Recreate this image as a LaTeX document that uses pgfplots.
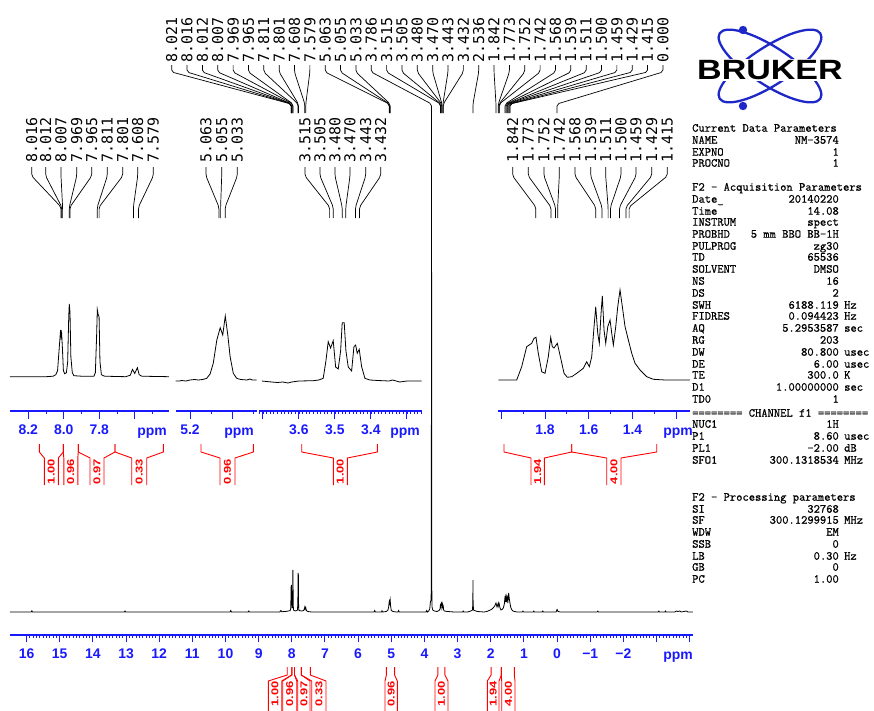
\documentclass[border=0pt]{standalone}
\usepackage{fontspec}
\usepackage{graphicx}
\usepackage{pgfplots}
\pgfplotsset{compat=1.18}
\setmainfont{Liberation Sans}
\newfontfamily\plfont{DejaVu Sans Mono}
\newfontfamily\parfont[FakeBold=0.8]{Latin Modern Mono}
\definecolor{bblue}{RGB}{25,25,255}
\definecolor{bred}{RGB}{255,0,0}
\definecolor{logoblue}{RGB}{30,40,200}
\pgfplotsset{nmr/.style={scale only axis, enlargelimits=false, clip=false, x dir=reverse,
  axis x line*=bottom, axis y line=none, ytick=\empty, tick align=outside,
  major tick length=7.5bp, minor tick length=3.2bp,
  every tick/.style={bblue, line width=1bp},
  every minor tick/.style={bblue, line width=0.8bp},
  axis line style={bblue, line width=1.2bp, -},
  xticklabel style={font=\fontsize{14}{14}\selectfont\bfseries, text=bblue, yshift=-3bp},
  anchor=south west}}
\newcommand\prow[4]{\node[anchor=base west,inner sep=0] at (692,#1+3.7) {#2};
  \node[anchor=base east,inner sep=0] at (839,#1+3.7) {#3};
  \node[anchor=base west,inner sep=0] at (844,#1+3.7) {#4};}
\begin{document}
\begin{tikzpicture}
\path[use as bounding box] (0,0) rectangle (874bp,-711bp);
% ---------------- main spectrum
\begin{axis}[nmr, at={(10bp,-635bp)}, width=683bp, height=523bp,
  xmin=-4.1, xmax=16.5, ymin=-23, ymax=500,
  major tick length=7bp, minor tick length=2.6bp,
  xtick={-4,-3,...,16}, minor tick num=9,
  xticklabels={,,−2,−1,0,1,2,3,4,5,6,7,8,9,10,11,12,13,14,15,16}]
\addplot[black, line width=0.8bp] coordinates {
(16.5,0) (15.86,0) (15.84,1.2) (15.82,0) (13.05,0) (13.03,1) (13.01,0) (9.86,0) (9.84,1.5) (9.82,0)
(9.32,0) (9.30,1) (9.28,0) (8.36,0) (8.33,1.5) (8.30,0.3) (8.2,0.5) (8.10,1) (8.05,1.5) (8.03,4)
(8.024,22) (8.019,26) (8.016,24) (8.012,27) (8.008,26) (8.003,10) (7.99,4) (7.975,8) (7.969,42)
(7.965,40) (7.958,8) (7.95,2) (7.90,1) (7.85,1.5) (7.83,2) (7.818,8) (7.811,39) (7.806,36) (7.801,37)
(7.795,6) (7.785,1.5) (7.70,1) (7.64,1.5) (7.615,4) (7.608,5) (7.595,3) (7.579,4.5) (7.56,1.5)
(7.52,0.5) (7.4,0) (5.6,0) (5.52,0) (5.50,1.5) (5.48,0) (5.30,0) (5.28,1.2) (5.26,0) (5.15,0.5)
(5.10,2) (5.08,5) (5.063,10) (5.055,11) (5.045,9) (5.033,12) (5.02,6) (5.0,1.5) (4.95,0.5) (4.85,0)
(4.80,0) (4.78,1.5) (4.76,0) (4.0,0) (3.95,0) (3.93,1.5) (3.91,0) (3.87,1) (3.84,3) (3.82,10) (3.80,12)
(3.792,30) (3.786,499) (3.780,30) (3.77,5) (3.75,2) (3.70,1) (3.62,0.5) (3.56,1.5) (3.53,3) (3.515,8)
(3.505,8) (3.495,5) (3.48,10) (3.47,10) (3.455,5) (3.443,7) (3.432,6) (3.42,2) (3.40,1) (3.3,0.5)
(3.1,0) (2.85,0) (2.83,1) (2.81,0) (2.7,0) (2.6,1) (2.55,2) (2.540,10) (2.536,32) (2.532,10) (2.52,2)
(2.45,1) (2.4,0.5) (2.2,0) (2.12,0.5) (2.05,1.5) (1.98,2.5) (1.93,4) (1.88,6) (1.842,9) (1.81,5)
(1.773,9) (1.76,6) (1.745,8) (1.72,4) (1.69,2) (1.66,2.5) (1.62,4) (1.59,8) (1.568,16) (1.555,10)
(1.539,18) (1.525,10) (1.51,14) (1.50,15) (1.485,9) (1.459,19) (1.44,13) (1.42,9) (1.40,5) (1.37,2.5)
(1.33,1) (1.28,0.5) (1.2,0) (1.05,0) (1.03,1) (1.01,0) (0.72,0) (0.70,1) (0.68,0) (0.45,0) (0.43,1)
(0.41,0) (0.03,0) (0.0,2.5) (-0.03,0.5) (-0.1,0) (-1.21,0) (-1.23,1) (-1.25,0) (-3.05,0) (-3.07,1)
(-3.09,0) (-3.25,0) (-3.27,1) (-3.29,0) (-3.55,0) (-3.6,1) (-3.65,0.5) (-3.7,1) (-3.75,0) (-3.9,1)
(-3.95,0) (-4.1,0)};
\end{axis}
% ---------------- inset 1
\begin{axis}[nmr, at={(10bp,-411bp)}, width=159bp, height=134.3bp,
  xmin=7.407, xmax=8.303, ymin=-34.3, ymax=100,
  xtick={7.6,7.8,8.0,8.2}, xticklabels={,7.8,8.0,8.2}, minor xtick={7.5,7.7,7.9,8.1}]
\addplot[black, line width=0.8bp] coordinates {
(8.303,0) (8.10,0) (8.06,0.5) (8.045,2) (8.035,6) (8.025,30) (8.018,46.7) (8.015,40) (8.012,43.3)
(8.008,30) (8.002,6) (7.995,3) (7.985,4) (7.978,15) (7.972,60) (7.969,72.7) (7.965,65) (7.960,20)
(7.952,4) (7.943,1) (7.90,0.5) (7.83,0.5) (7.822,4) (7.815,40) (7.811,67) (7.806,62) (7.801,60)
(7.796,15) (7.788,2) (7.77,0.5) (7.65,0) (7.625,1.5) (7.613,7.3) (7.600,3.3) (7.585,9) (7.575,2)
(7.56,0.5) (7.407,0)};
\end{axis}
% ---------------- inset 2
\begin{axis}[nmr, at={(175.7bp,-411bp)}, width=81bp, height=131bp,
  xmin=4.884, xmax=5.268, ymin=-31, ymax=100,
  xtick={5.0,5.2}, xticklabels={,5.2}, minor xtick={4.9,5.1}]
\addplot[black, line width=0.8bp] coordinates {
(5.268,-1) (5.25,-1) (5.24,-0.5) (5.22,-1) (5.20,0) (5.18,0.5) (5.16,0) (5.14,0.5) (5.121,1.7)
(5.105,6) (5.090,16.7) (5.073,40) (5.057,52.3) (5.045,45) (5.033,64) (5.021,45) (5.010,23.3)
(4.995,6.7) (4.979,1.7) (4.96,0.5) (4.93,0) (4.916,1) (4.905,0) (4.884,0)};
\end{axis}
% ---------------- inset 3
\begin{axis}[nmr, at={(259.3bp,-411bp)}, width=162.4bp, height=130bp,
  xmin=3.259, xmax=3.710, ymin=-30, ymax=100,
  xtick={3.3,3.4,3.5,3.6,3.7}, xticklabels={,3.4,3.5,3.6,},
  minor xtick={3.26,3.27,...,3.71}]
\addplot[black, line width=0.8bp] coordinates {
(3.703,0) (3.69,-0.5) (3.66,-1.5) (3.645,-1) (3.63,-2) (3.62,-1) (3.60,0) (3.56,0.3) (3.545,1)
(3.5325,2.7) (3.525,20) (3.5186,39.3) (3.512,33) (3.5047,40.3) (3.498,14) (3.4908,12) (3.4842,30)
(3.4797,58.3) (3.4742,58.3) (3.4694,30) (3.463,14) (3.4536,10) (3.4472,34.3) (3.4425,36) (3.438,27.7)
(3.4325,31.7) (3.4258,14.3) (3.4167,2.7) (3.4028,1) (3.38,0.5) (3.35,0) (3.34,1) (3.33,0) (3.32,-1)
(3.30,0) (3.259,0)};
\end{axis}
% ---------------- inset 4
\begin{axis}[nmr, at={(498.3bp,-411bp)}, width=191.7bp, height=131bp,
  xmin=1.1367, xmax=2.0137, ymin=-31, ymax=100,
  xtick={1.2,1.4,1.6,1.8,2.0}, xticklabels={,1.4,1.6,1.8,}, minor xtick={1.3,1.5,1.7,1.9}]
\addplot[black, line width=0.8bp] coordinates {
(2.0137,0) (1.9295,0) (1.9066,13.3) (1.8838,33.3) (1.861,36.7) (1.8503,41.7) (1.8412,42.7)
(1.8307,26.7) (1.8151,8.3) (1.8,6.7) (1.7849,23.3) (1.7739,42.7) (1.7666,33.3) (1.7588,32)
(1.7437,36.7) (1.7281,21.7) (1.713,6.7) (1.6979,2.7) (1.6778,3.3) (1.6549,6.7) (1.6247,11.7)
(1.6092,18.3) (1.5973,13.3) (1.5863,23.3) (1.5757,53.3) (1.568,73.3) (1.5588,46.7) (1.5515,36.7)
(1.5437,66.7) (1.5378,84) (1.53,50) (1.5222,36.7) (1.513,53.3) (1.5025,60) (1.4947,46.7) (1.4874,35)
(1.4764,53.3) (1.4673,73.3) (1.4568,90) (1.4462,73.3) (1.4339,53.3) (1.4188,40) (1.4032,26.7)
(1.3881,16.7) (1.3652,10) (1.3346,3.3) (1.3043,0.7) (1.25,0) (1.1367,0)};
\end{axis}
% ---------------- annotations (pixel frame)
\begin{scope}[x=1bp,y=-1bp]
% ppm labels
\begin{scope}[every node/.style={font=\fontsize{14}{14}\selectfont\bfseries, text=bblue}]
\node at (678,657) {ppm};
\node at (152,433) {ppm};
\node at (239,433) {ppm};
\node at (405,433) {ppm};
\node at (678,433) {ppm};
\end{scope}
% main peak labels
\foreach \p [count=\i from 0] in {8.021,8.016,8.012,8.007,7.969,7.965,7.811,7.801,7.608,7.579,5.063,5.055,5.033,3.786,3.515,3.505,3.480,3.470,3.443,3.432,2.536,1.842,1.773,1.752,1.742,1.568,1.539,1.511,1.500,1.459,1.429,1.415,0.000}{
  \pgfmathsetmacro\xl{171.7+15.35*\i}
  \pgfmathsetmacro\xp{557.06-33.155*\p}
  \draw[line width=0.7bp, rounded corners=2bp] (\xl,65) -- (\xl,72) -- (\xp,104) -- (\xp,113);
  \node[rotate=90, anchor=west, inner sep=0, font=\plfont\fontsize{15}{15}\selectfont] at (\xl,63) {\p};
}
% inset peak labels
\foreach \xl/\xp/\t in {31.7/61/8.016, 45.7/61.7/8.012, 61/62.6/8.007, 76.7/69.3/7.969, 91.7/70/7.965, 107.3/97.3/7.811, 122.7/99.1/7.801, 137.7/133.4/7.608, 153.3/138.5/7.579, 206/218.9/5.063, 221.7/220.6/5.055, 237.3/225.2/5.033, 305/329.6/3.515, 320/333.2/3.505, 335/342.2/3.480, 350/345.8/3.470, 365.7/355.5/3.443, 380.7/359.5/3.432, 512.7/535.8/1.842, 528.3/550.9/1.773, 544/555.5/1.752, 559.3/557.7/1.742, 575/595.7/1.568, 590.7/602/1.539, 605.7/608.1/1.511, 621/610.5/1.500, 636/619.5/1.459, 651.7/626/1.429, 667.3/629.1/1.415}{
  \draw[line width=0.7bp, rounded corners=2bp] (\xl,167) -- (\xl,176) -- (\xp,207) -- (\xp,218);
  \node[rotate=90, anchor=west, inner sep=0, font=\plfont\fontsize{15}{15}\selectfont] at (\xl,163) {\t};
}
% inset integrals
\foreach \xa/\xb/\ba/\bb/\lab in {39.3/63.3/44.3/58.3/1.00, 63.3/78.3/63.8/77.8/0.96, 78.3/115/90/104/0.97, 115/163.3/131.7/146.7/0.33, 201/253.3/220/235/0.96, 301.7/377.3/333.3/347.3/1.00, 504/571.7/531/544.3/1.94, 571.7/656.7/606.7/621/4.00}{
  \draw[bred, line width=0.9bp] (\xa,444) -- (\xa,452) -- (\ba,458) -- (\ba,485);
  \draw[bred, line width=0.9bp] (\xb,444) -- (\xb,452) -- (\bb,458) -- (\bb,485);
  \node[rotate=90, text=bred, inner sep=0, font=\fontsize{10}{10}\selectfont\bfseries] at ({(\ba+\bb)/2},471.5) {\scalebox{1.3}[1]{\lab}};
}
% main integrals
\foreach \xa/\xb/\ba/\bb/\lab in {287.2/291.8/268.3/281.7/1.00, 291.8/294.5/282.7/296.7/0.96, 294.5/301.3/297.7/310/0.97, 301.3/310.3/311.7/326/0.33, 386.4/394.6/385/397.3/0.96, 437.9/444.9/435/448/1.00, 491.1/501.4/487.3/499/1.94, 501.4/514.3/501.7/515/4.00}{
  \draw[bred, line width=0.9bp] (\xa,667) -- (\xa,675) -- (\ba,681) -- (\ba,712);
  \draw[bred, line width=0.9bp] (\xb,667) -- (\xb,675) -- (\bb,681) -- (\bb,712);
  \node[rotate=90, text=bred, inner sep=0, font=\fontsize{10}{10}\selectfont\bfseries] at ({(\ba+\bb)/2},694) {\scalebox{1.3}[1]{\lab}};
}
% Bruker logo
\begin{scope}[shift={(770,66)}]
\draw[logoblue, line width=2.3bp] (0,0) ellipse [x radius=60, y radius=19, rotate=33];
\draw[logoblue, line width=2.3bp] (0,0) ellipse [x radius=60, y radius=19, rotate=-33];
\end{scope}
\fill[logoblue] (743,30) circle (4.2);
\fill[logoblue] (743,106) circle (4.2);
\node[fill=white, inner sep=1bp, font=\fontsize{28}{28}\selectfont\bfseries, xscale=1.22] at (770,70) {BRUKER};
% parameters
\begin{scope}[every node/.style={font=\parfont\fontsize{12.25}{12.25}\selectfont}]
\prow{128}{Current Data Parameters}{}{}
\prow{140}{NAME}{NM-3574}{}
\prow{152}{EXPNO}{1}{}
\prow{163}{PROCNO}{1}{}
\prow{187}{F2 - Acquisition Parameters}{}{}
\prow{199}{Date\_}{20140220}{}
\prow{211}{Time}{14.08}{}
\prow{222}{INSTRUM}{spect}{}
\prow{234}{PROBHD}{5 mm BBO BB-1H}{}
\prow{246}{PULPROG}{zg30}{}
\prow{257}{TD}{65536}{}
\prow{269}{SOLVENT}{DMSO}{}
\prow{281}{NS}{16}{}
\prow{293}{DS}{2}{}
\prow{305}{SWH}{6188.119}{Hz}
\prow{316}{FIDRES}{0.094423}{Hz}
\prow{328}{AQ}{5.2953587}{sec}
\prow{340}{RG}{203}{}
\prow{352}{DW}{80.800}{usec}
\prow{364}{DE}{6.00}{usec}
\prow{375}{TE}{300.0}{K}
\prow{387}{D1}{1.00000000}{sec}
\prow{399}{TD0}{1}{}
\prow{413}{======== CHANNEL f1 ========}{}{}
\prow{424}{NUC1}{1H}{}
\prow{436}{P1}{8.60}{usec}
\prow{448}{PL1}{-2.00}{dB}
\prow{460}{SFO1}{300.1318534}{MHz}
\prow{497}{F2 - Processing parameters}{}{}
\prow{509}{SI}{32768}{}
\prow{520}{SF}{300.1299915}{MHz}
\prow{532}{WDW}{EM}{}
\prow{544}{SSB}{0}{}
\prow{556}{LB}{0.30}{Hz}
\prow{567}{GB}{0}{}
\prow{579}{PC}{1.00}{}
\end{scope}
\end{scope}
\end{tikzpicture}
\end{document}
